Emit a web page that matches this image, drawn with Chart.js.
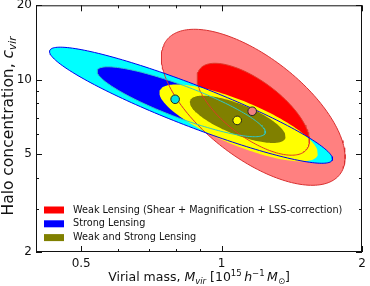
<!DOCTYPE html>
<html><head><meta charset="utf-8">
<script src="https://cdn.jsdelivr.net/npm/chart.js@4/dist/chart.umd.min.js"></script>
<style>html,body{margin:0;padding:0;background:#fff;}</style>
</head><body>
<canvas id="c" width="370" height="286" style="width:370px;height:286px;display:block"></canvas>
<script>
// ---- data ----
const contourNames = ['Weak 2σ', 'Weak 1σ', 'Strong 2σ', 'Strong 1σ', 'Joint 2σ', 'Joint 1σ'];
const centerMass   = [1.169, 1.169, 0.860, 0.819, 1.088, 1.083];
const centerConc   = [7.72, 7.58, 7.87, 8.13, 6.67, 6.90];
const majorLogMass = [0.188, 0.115, 0.303, 0.180, 0.169, 0.102];
const majorLogConc = [-0.266, -0.162, -0.222, -0.128, -0.132, -0.077];
const minorLogMass = [-0.059, -0.036, -0.016, -0.012, -0.018, -0.012];
const minorLogConc = [-0.171, -0.092, -0.078, -0.061, -0.083, -0.057];
const bestFitNames = ['Strong Lensing', 'Weak Lensing', 'Weak and Strong Lensing'];
const bestFitMass  = [0.795, 1.163, 1.080];
const bestFitConc  = [8.32, 7.44, 6.83];
const xTickValues = [0.5, 1, 2];
const yTickValues = [2, 5, 10, 20];
const xMinorTickValues = [0.6, 0.7, 0.8, 0.9];
const yMinorTickValues = [3, 4, 6, 7, 8, 9];
const legendLabels = ['Weak Lensing (Shear + Magnification + LSS-correction)', 'Strong Lensing', 'Weak and Strong Lensing'];

// ---- styles ----
const fillColors = ['#ff8080', '#ff0000', '#00ffff', '#0000ff', '#ffff00', '#808000'];
const outlineColors = ['#d83030', '#e03828', '#0000ee', '#30c8c8', null, null];
const pointColors = ['#00e0e0', '#f08080', '#ffff00'];
const legendColors = ['#ff0000', '#0000ff', '#808000'];

function ellipsePoints(i, n) {
  const pts = [];
  const lm = Math.log10(centerMass[i]), lc = Math.log10(centerConc[i]);
  for (let k = 0; k <= n; k++) {
    const t = 2 * Math.PI * k / n;
    pts.push({
      x: Math.pow(10, lm + majorLogMass[i] * Math.cos(t) + minorLogMass[i] * Math.sin(t)),
      y: Math.pow(10, lc + majorLogConc[i] * Math.cos(t) + minorLogConc[i] * Math.sin(t))
    });
  }
  return pts;
}

const datasets = [];
contourNames.forEach((name, i) => {
  datasets.push({
    label: name, data: ellipsePoints(i, 180), showLine: true, fill: 'shape',
    backgroundColor: fillColors[i], borderColor: 'rgba(0,0,0,0)', borderWidth: 0,
    pointRadius: 0, tension: 0, order: 30 - i
  });
});
contourNames.forEach((name, i) => {
  if (!outlineColors[i]) return;
  datasets.push({
    label: name + ' outline', data: ellipsePoints(i, 180), showLine: true, fill: false,
    borderColor: outlineColors[i], borderWidth: 1, pointRadius: 0, tension: 0, order: 10 - i
  });
});
datasets.push({
  label: 'best fit', data: bestFitMass.map((m, i) => ({x: m, y: bestFitConc[i]})),
  showLine: false, pointRadius: 4.3, pointBackgroundColor: pointColors,
  pointBorderColor: '#222', pointBorderWidth: 1, order: 0
});

function drawRich(ctx, segs, x, y) {
  let total = 0;
  segs.forEach(s => { ctx.font = s.font; s.w = ctx.measureText(s.t).width; total += s.w; });
  let cx = x - total / 2;
  segs.forEach(s => { ctx.font = s.font; ctx.fillText(s.t, cx, y + (s.dy || 0)); cx += s.w; });
}

const decor = {
  id: 'decor',
  afterDraw(chart) {
    const ctx = chart.ctx, a = chart.chartArea, xs = chart.scales.x, ys = chart.scales.y;
    ctx.save();
    ctx.strokeStyle = '#111'; ctx.lineWidth = 1;
    ctx.strokeRect(a.left + 0.5, a.top + 0.5, a.right - a.left - 1, a.bottom - a.top - 1);
    ctx.beginPath();
    const xt = (v, len) => { const p = Math.round(xs.getPixelForValue(v)) + 0.5;
      ctx.moveTo(p, a.bottom); ctx.lineTo(p, a.bottom - len); ctx.moveTo(p, a.top); ctx.lineTo(p, a.top + len); };
    const yt = (v, len) => { const p = Math.round(ys.getPixelForValue(v)) + 0.5;
      ctx.moveTo(a.left, p); ctx.lineTo(a.left + len, p); ctx.moveTo(a.right, p); ctx.lineTo(a.right - len, p); };
    xTickValues.forEach(v => xt(v, 6)); xMinorTickValues.forEach(v => xt(v, 3));
    yTickValues.forEach(v => yt(v, 6)); yMinorTickValues.forEach(v => yt(v, 3));
    ctx.stroke();
    // legend
    ctx.textBaseline = 'middle'; ctx.textAlign = 'left'; ctx.fillStyle = '#111';
    ctx.font = '9.7px "DejaVu Sans"';
    legendLabels.forEach((l, i) => {
      const yy = 210 + i * 13.8;
      ctx.fillStyle = legendColors[i]; ctx.fillRect(44, yy - 3.5, 20, 7);
      ctx.fillStyle = '#111'; ctx.fillText(l, 73, yy);
    });
    // x title
    ctx.textBaseline = 'alphabetic';
    const F = 'px "DejaVu Sans"';
    const N = 12.5, S = 8.5;
    drawRich(ctx, [
      {t: 'Virial mass, ', font: N + F},
      {t: 'M', font: 'italic ' + N + F},
      {t: 'vir', font: 'italic ' + S + F, dy: 2.5},
      {t: ' [10', font: N + F},
      {t: '15', font: S + F, dy: -5},
      {t: '\u2009h', font: 'italic ' + N + F},
      {t: '\u22121', font: S + F, dy: -5},
      {t: '\u2009M', font: 'italic ' + N + F},
      {t: '\u2299', font: S + F, dy: 2.5},
      {t: ']', font: N + F}
    ], (a.left + a.right) / 2, 281);
    // y title
    ctx.translate(13, 126);
    ctx.rotate(-Math.PI / 2);
    const YN = 15.5, YS = 10.5;
    drawRich(ctx, [
      {t: 'Halo concentration, ', font: YN + F},
      {t: 'c', font: 'italic ' + YN + F},
      {t: 'vir', font: 'italic ' + YS + F, dy: 3}
    ], 0, 0);
    ctx.restore();
  }
};

new Chart(document.getElementById('c'), {
  type: 'scatter',
  data: {datasets},
  options: {
    responsive: false, animation: false, devicePixelRatio: 1,
    layout: {padding: {top: 5, right: 8, left: 0, bottom: 0}},
    plugins: {legend: {display: false}, tooltip: {enabled: false}},
    scales: {
      x: {
        type: 'logarithmic', min: 0.4, max: 2,
        afterBuildTicks: s => { s.ticks = xTickValues.map(v => ({value: v})); },
        afterFit: s => { s.height = 34; s.paddingLeft = 0; s.paddingRight = 0; },
        ticks: {callback: v => String(v), font: {family: 'DejaVu Sans', size: 12}, color: '#111', padding: 5, maxRotation: 0, autoSkip: false},
        grid: {display: false, drawTicks: false}, border: {display: false}
      },
      y: {
        type: 'logarithmic', min: 2, max: 20,
        afterBuildTicks: s => { s.ticks = yTickValues.map(v => ({value: v})); },
        afterFit: s => { s.width = 36; s.paddingTop = 0; s.paddingBottom = 0; },
        ticks: {callback: v => String(v), font: {family: 'DejaVu Sans', size: 12}, color: '#111', padding: 4, autoSkip: false},
        grid: {display: false, drawTicks: false}, border: {display: false}
      }
    }
  },
  plugins: [decor]
});
</script>
</body></html>
